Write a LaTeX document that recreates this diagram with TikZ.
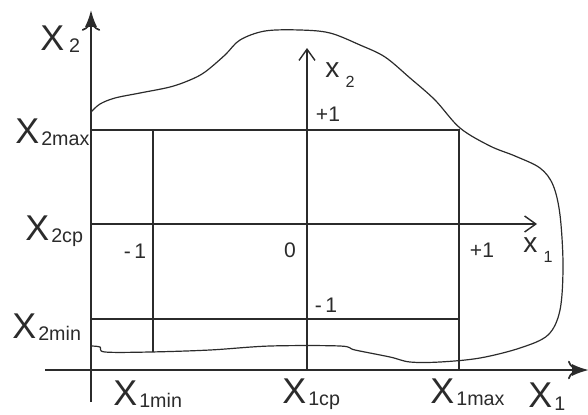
\documentclass[tikz,border=0pt]{standalone}
\usepackage{fontspec}
\setmainfont{Liberation Sans}
\usetikzlibrary{arrows.meta, calc, positioning}
\definecolor{cink}{HTML}{2B2B2B}

% big axis letter with a lowered subscript
\newcommand{\bigX}[1]{{\fontsize{25.5}{26}\selectfont X}\kern1.5pt\raisebox{-2pt}{\fontsize{14}{14}\selectfont #1}}
% small normalized-axis letter
\newcommand{\smallx}[1]{{\fontsize{20}{20}\selectfont x}\kern4.5pt\raisebox{-7.5pt}{\fontsize{11.5}{11.5}\selectfont #1}}

\begin{document}
\begin{tikzpicture}[
  axis/.style={draw=cink, line width=1.2pt},
  mainarrow/.style={axis, -{Computer Modern Rightarrow[length=2.8mm, width=4.6mm, sep=-1.8mm]Latex[length=4.2mm, width=3mm]}},
  unitarrow/.style={axis, line width=1pt, -{Straight Barb[length=2.8mm, width=4mm]}},
  grid/.style={draw=cink, line width=1.2pt},
  region/.style={draw=cink, line width=0.85pt},
  biglab/.style={text=cink, anchor=base west, inner sep=0pt},
  numlab/.style={text=cink, inner sep=0pt, font=\fontsize{15}{15}\selectfont}
]
\useasboundingbox (0,0) rectangle (14.7,10.35);

% ============================================================
% Main axes X1, X2
\coordinate (O)    at (2.275,1.1);
\coordinate (X2lo) at (2.275,0.3);
\coordinate (X2hi) at (2.275,10.1);
\coordinate (X1lo) at (1.125,1.1);
\coordinate (X1hi) at (14.72,1.1);

% Factor-space corners and grid points
\coordinate (tl)  at (2.275,7.1);
\coordinate (tr)  at (11.475,7.1);
\coordinate (br)  at (11.475,1.1);
\coordinate (bl)  at (2.275,2.375);
\coordinate (brr) at (11.475,2.375);
\coordinate (mnT) at (3.825,7.1);
\coordinate (mnB) at (3.825,1.55);
\coordinate (cpL) at (2.275,4.75);
\coordinate (cpR) at (13.425,4.75);
\coordinate (cpB) at (7.675,1.1);
\coordinate (cpT) at (7.675,9.15);

% Region boundary (free curve, closed by the X2 axis)
\draw[region] plot[smooth, tension=0.55] coordinates {
  (2.275,7.55) (2.5,7.75) (2.875,7.9) (3.5,8.025) (4.25,8.175) (4.75,8.35)
  (5.125,8.55) (5.625,8.975) (6.0,9.35) (6.625,9.575) (7.5,9.6) (8.25,9.525)
  (9.0,9.225) (9.625,8.925) (10.25,8.4) (10.875,7.85) (11.5,7.15) (12.25,6.7)
  (12.875,6.45) (13.5,6.15) (13.825,5.725) (14.0,4.975) (14.075,3.725)
  (14.0,2.6) (13.7,1.975) (13.0,1.65) (12.0,1.4) (11.0,1.3) (10.25,1.3)
  (9.75,1.425) (8.875,1.6) (8.5,1.7) (6.75,1.7) (5.25,1.6) (3.75,1.55)
  (2.625,1.55) (2.5,1.675) (2.275,1.7)};

% Rectangle of the experiment plan
\draw[grid] (tl) -- (tr) -- (br);
\draw[grid] (bl) -- (brr);
\draw[grid] (mnT) -- (mnB);

% Coded axes x1, x2 through the centre point
\draw[unitarrow] (cpL) -- (cpR);
\draw[unitarrow] (cpB) -- (cpT);

% Main axes on top
\draw[mainarrow] (X2lo) -- (X2hi);
\draw[mainarrow] (X1lo) -- (X1hi);

% Labels of the natural factors
\node[biglab] (lX2)    at (1.0,9.1)    {\bigX{\kern2pt 2}};
\node[biglab] (lX2max) at (0.375,6.775) {\bigX{2max}};
\node[biglab] (lX2cp)  at (0.625,4.35)  {\bigX{2cp}};
\node[biglab] (lX2min) at (0.3,1.9)     {\bigX{2min}};
\node[biglab] (lX1min) at (2.825,0.225) {\bigX{1min}};
\node[biglab] (lX1cp)  at (7.05,0.275)  {\bigX{1cp}};
\node[biglab] (lX1max) at (10.75,0.275) {\bigX{1max}};
\node[biglab] (lX1)    at (13.2,0.16)   {\bigX{1}};

% Coded levels
\node[biglab] (lx2) at (8.125,8.425) {\smallx{2}};
\node[biglab] (lx1) at (13.075,4.05) {\smallx{1}};
\node[numlab] (pT) at (8.2,7.5)    {+1};
\node[numlab] (mL) at (3.375,4.075) {-\,1};
\node[numlab] (z0) at (7.25,4.1)   {0};
\node[numlab] (pR) at (12.05,4.1)  {+1};
\node[numlab] (mB) at (8.15,2.725) {-\,1};

\end{tikzpicture}
\end{document}
